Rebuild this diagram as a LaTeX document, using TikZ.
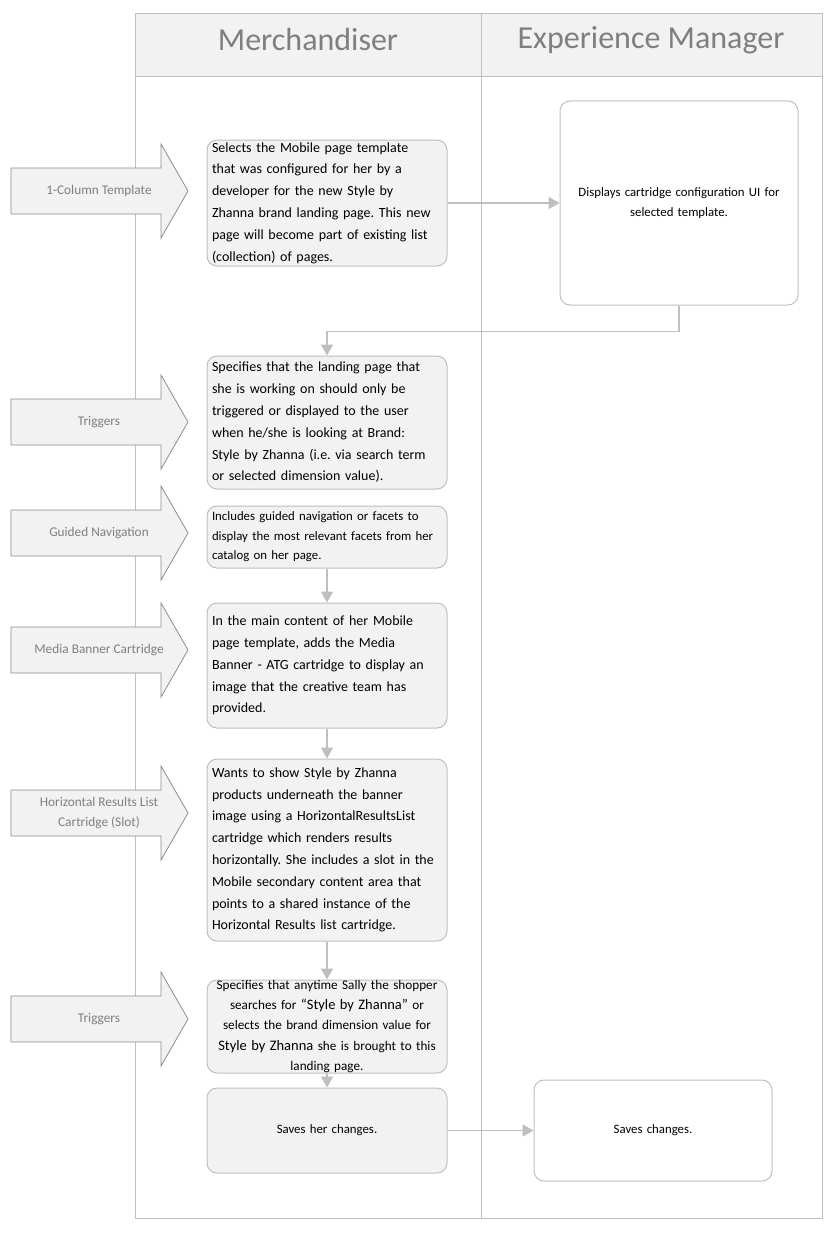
\documentclass[tikz,border=0pt]{standalone}
\usepackage{fontspec}
\setmainfont{Carlito}
\frenchspacing
\usetikzlibrary{calc}
\usetikzlibrary{arrows.meta}
\definecolor{lanegray}{HTML}{BFBFBF}
\definecolor{boxfill}{HTML}{F2F2F2}
\definecolor{labelgray}{HTML}{7F7F7F}
\definecolor{tagline}{HTML}{8C8C8C}
\newcommand{\tagarrow}[3]{% name, centre y, label
	\draw[tagshape] (11,#2-23) -- (161,#2-23) -- (161,#2-47) -- (188,#2) -- (161,#2+47) -- (161,#2+23) -- (11,#2+23) -- cycle;
	\node[taglabel] (#1) at (99,#2) {#3};
}
\tikzset{
	lane/.style={draw=lanegray, line width=1pt},
	lanetitle/.style={text=labelgray, font=\fontsize{32}{38}\selectfont},
	procbox/.style={draw=lanegray, fill=boxfill, rounded corners=10pt, line width=1pt,
		minimum width=240pt, inner sep=0pt, text width=230pt, align=left,
		font=\fontsize{14}{21.8}\selectfont},
	smallbox/.style={procbox, align=center, font=\fontsize{12.8}{19.5}\selectfont},
	sysbox/.style={smallbox, fill=white, minimum width=238pt},
	flow/.style={draw=lanegray, line width=1.5pt, -{Triangle[length=11pt,width=12pt]}},
	tagshape/.style={draw=tagline, fill=boxfill, line width=0.8pt},
	taglabel/.style={text=labelgray, font=\fontsize{13.3}{20}\selectfont, align=center},
}

\begin{document}
\begin{tikzpicture}[x=1pt,y=-1pt]
	\useasboundingbox (0,0) rectangle (840,1236);
	% pool and lanes
	\fill[boxfill] (135,14) rectangle (822,77);
	\draw[lane] (135,14) rectangle (822,1218);
	\draw[lane] (135,77) -- (822,77);
	\draw[lane] (481,14) -- (481,1218);
	\node[lanetitle] (merch) at (308,40) {Merchandiser};
	\node[lanetitle] (xm) at (651,40) {Experience Manager};

	\tagarrow{tcol}{191}{1-Column Template}
	\tagarrow{ttrig}{422}{Triggers}
	\tagarrow{tnav}{533}{Guided Navigation}
	\tagarrow{tbanner}{650}{Media Banner Cartridge}
	\tagarrow{tslot}{813}{Horizontal Results List\\Cartridge (Slot)}
	\tagarrow{ttrigb}{1019}{Triggers}

	\node[procbox, minimum height=126pt] (select) at (327,203) {Selects the Mobile page template\\that was configured for her by a\\developer for the new Style by\\Zhanna brand landing page. This new\\page will become part of existing list\\(collection) of pages.};
	\node[procbox, minimum height=133pt] (trig) at (327,422.5) {Specifies that the landing page that\\she is working on should only be\\triggered or displayed to the user\\when he/she is looking at Brand:\\Style by Zhanna (i.e. via search term\\or selected dimension value).};
	\node[procbox, minimum height=62pt, font=\fontsize{12.8}{19.5}\selectfont] (nav) at (327,537) {Includes guided navigation or facets to\\display the most relevant facets from her\\catalog on her page.};
	\node[procbox, minimum height=125pt] (banner) at (327,665.5) {In the main content of her Mobile\\page template, adds the Media\\Banner - ATG cartridge to display an\\image that the creative team has\\provided.};
	\node[procbox, minimum height=182pt] (slot) at (327,850) {Wants to show Style by Zhanna\\products underneath the banner\\image using a HorizontalResultsList\\cartridge which renders results\\horizontally. She includes a slot in the\\Mobile secondary content area that\\points to a shared instance of the\\Horizontal Results list cartridge.};
	\node[smallbox, minimum height=93pt, font=\fontsize{13.2}{20.3}\selectfont] (trigb) at (327,1026.5) {Specifies that anytime Sally the shopper\\searches for {\fontsize{14.5}{20.3}\selectfont “Style by Zhanna"} or\\selects the brand dimension value for\\{\fontsize{14.5}{20.3}\selectfont Style by Zhanna} she is brought to this\\landing page.};
	\node[smallbox, minimum height=85pt] (save) at (327,1130.5) {Saves her changes.};

	\node[sysbox, minimum height=204pt] (config) at (679,203) {Displays cartridge configuration UI for\\selected template.};
	\node[sysbox, minimum height=101pt] (saved) at (653,1130.5) {Saves changes.};

	\draw[flow] (select.east) -- (config.west);
	\draw[flow] (config.south) -- ++(0,26) -| (trig.north);
	\draw[flow] (nav.south) -- (banner.north);
	\draw[flow] (banner.south) -- (slot.north);
	\draw[flow] (slot.south) -- (trigb.north);
	\draw[flow] (trigb.south) -- (save.north);
	\draw[flow] (save.east) -- (saved.west);
\end{tikzpicture}
\end{document}
